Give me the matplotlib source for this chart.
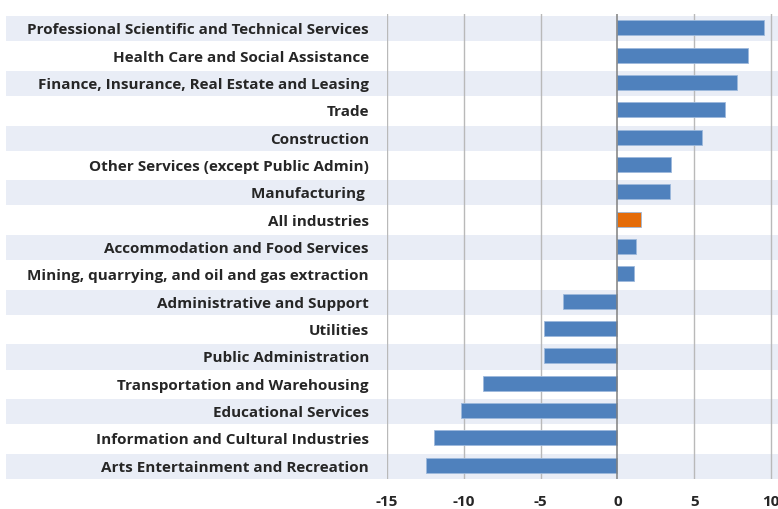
import matplotlib
matplotlib.use("Agg")
import matplotlib.pyplot as plt

# Industries, top to bottom
industries = [
    "Professional Scientific and Technical Services",
    "Health Care and Social Assistance",
    "Finance, Insurance, Real Estate and Leasing",
    "Trade",
    "Construction",
    "Other Services (except Public Admin)",
    "Manufacturing ",
    "All industries",
    "Accommodation and Food Services",
    "Mining, quarrying, and oil and gas extraction",
    "Administrative and Support",
    "Utilities",
    "Public Administration",
    "Transportation and Warehousing",
    "Educational Services",
    "Information and Cultural Industries",
    "Arts Entertainment and Recreation",
]
changes = [9.52, 8.53, 7.79, 6.99, 5.5, 3.47, 3.45, 1.56, 1.19, 1.08,
           -3.56, -4.8, -4.8, -8.77, -10.16, -11.91, -12.43]
highlight = "All industries"
xticks = [-15, -10, -5, 0, 5, 10]

blue = "#4f81bd"
orange = "#e46c0a"
band = "#e9edf6"
text_col = "#262626"

plt.rcParams["font.family"] = ["Open Sans", "DejaVu Sans"]

fig = plt.figure(figsize=(7.78, 5.10), dpi=100)
W, H = 778, 510
ax = fig.add_axes([387 / W, 1 - 480 / H, 391 / W, 465 / H])

n = len(industries)
ypos = list(range(n))

# alternating row bands, running across the label area too
for i in ypos:
    if i % 2 == 0:
        ax.axhspan(i - 0.42, i + 0.5, xmin=-0.974, xmax=1, color=band,
                   lw=0, zorder=0, clip_on=False)

colors = [orange if name == highlight else blue for name in industries]
ax.barh(ypos, changes, height=0.55, color=colors, edgecolor="#9db9dc",
        linewidth=0.6, zorder=3)

ax.set_ylim(n - 0.5, -0.5)
ax.set_xlim(-15, 10.46)

for x in xticks:
    if x == 0:
        ax.axvline(x, color="#808080", lw=1.1, zorder=4)
    else:
        ax.axvline(x, color="#b9b9b9", lw=1.0, zorder=1)

ax.set_yticks(ypos)
ax.set_yticklabels(industries, fontsize=11, fontweight="bold", color=text_col)
ax.set_xticks(xticks)
ax.set_xticklabels([str(v) for v in xticks], fontsize=11, fontweight="bold",
                   color=text_col)
ax.tick_params(axis="y", length=0, pad=13)
ax.tick_params(axis="x", length=0, pad=11)

for s in ax.spines.values():
    s.set_visible(False)
ax.patch.set_alpha(0)

fig.savefig("out.png", dpi=100)
